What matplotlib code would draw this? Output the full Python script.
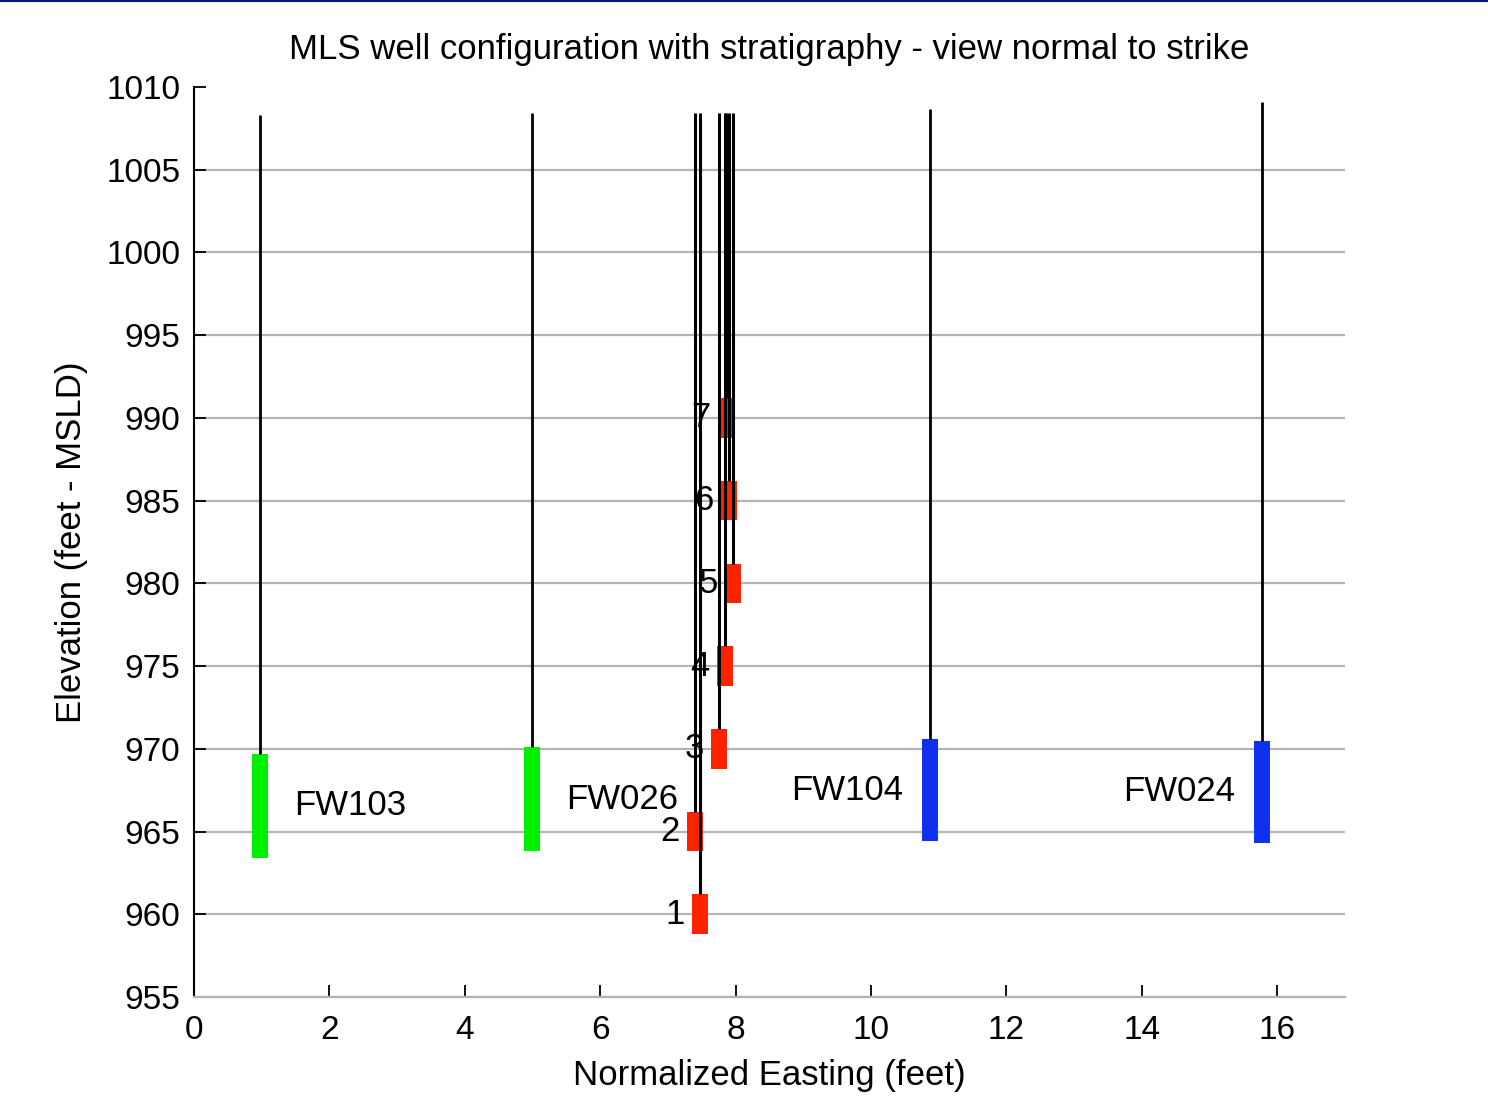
import numpy as np
import matplotlib
matplotlib.use('Agg')
import matplotlib.pyplot as plt
from matplotlib.lines import Line2D

plt.rcParams['font.family'] = ['Liberation Sans Narrow', 'Liberation Sans', 'DejaVu Sans']

# MLS ports (numbered 1-7, deepest first)
port_names = ['1', '2', '3', '4', '5', '6', '7']
port_easting = [7.48, 7.40, 7.76, 7.84, 7.96, 7.90, 7.86]
port_elev = [960, 965, 970, 975, 980, 985, 990]
port_len = 2.4
mls_top = 1008.45

# fully screened wells
fw_names = ['FW103', 'FW026', 'FW104', 'FW024']
fw_easting = [0.98, 4.99, 10.87, 15.77]
fw_top = [1008.3, 1008.4, 1008.65, 1009.1]
fw_screen_top = [969.7, 970.1, 970.6, 970.5]
fw_screen_bot = [963.4, 963.8, 964.4, 964.3]
fw_colors = ['#00ee00', '#00ee00', '#1030f0', '#1030f0']

fs = 25

fig = plt.figure(figsize=(14.88, 11.15), dpi=100)
ax = fig.add_axes([0.1304, 0.1058, 0.7735, 0.8162])

# screens / ports first, casings on top
for i in range(len(fw_names)):
    ax.plot([fw_easting[i], fw_easting[i]], [fw_screen_bot[i], fw_screen_top[i]],
            color=fw_colors[i], lw=11.5, solid_capstyle='butt', zorder=2)
    ax.plot([fw_easting[i], fw_easting[i]], [fw_screen_top[i], fw_top[i]],
            color='black', lw=2.0, solid_capstyle='butt', zorder=2.5)
    mid = (fw_screen_top[i] + fw_screen_bot[i]) / 2
    if fw_easting[i] < 8:
        ax.text(fw_easting[i] + 0.5, mid, fw_names[i], ha='left', va='center', fontsize=fs)
    else:
        ax.text(fw_easting[i] - 0.4, mid, fw_names[i], ha='right', va='center', fontsize=fs)

for i in range(len(port_names)):
    x = port_easting[i]
    lo = port_elev[i] - port_len / 2
    hi = port_elev[i] + port_len / 2
    ax.plot([x, x], [lo, hi], color='#ff2200', lw=11.5, solid_capstyle='butt', zorder=2)
    ax.plot([x, x], [hi, mls_top], color='black', lw=2.2, solid_capstyle='butt', zorder=2.5)
    ax.text(x - 0.37, port_elev[i], port_names[i], ha='center', va='center',
            fontsize=fs, zorder=1.9)

ax.set_xlim(0, 17)
ax.set_ylim(955, 1010)
ax.set_xticks(np.arange(0, 17, 2))
ax.set_yticks(np.arange(955, 1011, 5))

ax.set_axisbelow(True)
ax.grid(axis='y', color='#b4b4b4', lw=1.6)
ax.yaxis.get_gridlines()[-1].set_visible(False)

ax.spines['top'].set_visible(False)
ax.spines['right'].set_visible(False)
ax.spines['left'].set_linewidth(1.5)
ax.spines['bottom'].set_color('#b4b4b4')
ax.spines['bottom'].set_linewidth(1.6)
ax.tick_params(direction='in', length=8.5, width=1.3, labelsize=24, pad=10)
ax.tick_params(axis='x', pad=13)

ax.set_title('MLS well configuration with stratigraphy - view normal to strike',
             fontsize=fs, pad=20)
ax.set_xlabel('Normalized Easting (feet)', fontsize=fs, labelpad=9)
ax.set_ylabel('Elevation (feet - MSLD)', fontsize=fs, labelpad=13)

fig.add_artist(Line2D([0, 1], [0.999, 0.999], color='#001a80', lw=1.5))

fig.savefig('out.png', dpi=100)
